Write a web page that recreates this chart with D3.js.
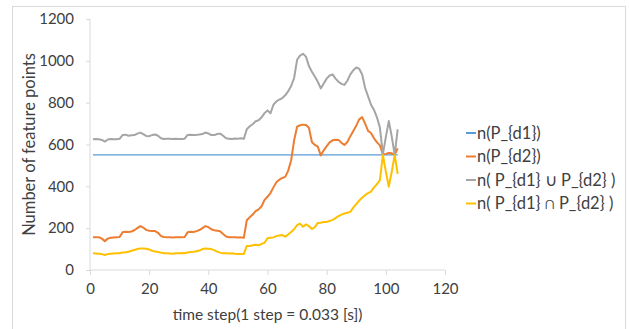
<!DOCTYPE html>
<html>
<head>
<meta charset="utf-8">
<script src="https://d3js.org/d3.v7.min.js"></script>
<style>
  body { margin: 0; background: #fff; }
  text { font-family: Lato, "Open Sans", sans-serif; fill: #404040; }
</style>
</head>
<body>
<svg id="chart" width="629" height="329"></svg>
<script>
// values, one per time step (1..104)
const steps = d3.range(1, 105);

const d1 = [550,550,550,550,550,550,550,550,550,550, 550,550,550,550,550,550,550,550,550,550,
  550,550,550,550,550,550,550,550,550,550, 550,550,550,550,550,550,550,550,550,550,
  550,550,550,550,550,550,550,550,550,550, 550,550,550,550,550,550,550,550,550,550,
  550,550,550,550,550,550,550,550,550,550, 550,550,550,550,550,550,550,550,550,550,
  550,550,550,550,550,550,550,550,550,550, 550,550,550,550,550,550,550,550,550,550,
  550,550,550,550];

const d2 = [157,156,157,150,138,150,154,155,156,158, 180,183,182,184,190,200,210,203,192,188,
  187,186,178,162,158,157,156,155,157,156, 157,158,180,183,182,186,191,200,210,205,
  195,190,188,185,172,160,157,156,157,155, 156,154,238,252,265,282,290,305,335,350,
  368,395,420,432,440,445,475,525,620,685, 692,695,693,680,612,598,590,548,572,592,
  610,620,623,622,608,598,612,640,665,690, 720,731,700,665,655,630,610,596,553,555,
  560,558,550,582];

const union = [625,626,625,622,614,624,626,625,625,627, 645,647,642,644,645,652,657,650,641,640,
  645,648,642,630,626,627,627,626,627,626, 626,628,646,647,645,646,648,650,657,653,
  645,645,650,652,642,630,628,626,629,628, 630,627,673,687,697,711,716,730,750,763,
  749,790,806,815,822,835,855,880,918,1005, 1025,1034,1020,975,948,925,900,868,892,915,
  930,935,915,900,890,885,905,935,955,968, 962,935,870,830,790,765,730,680,553,635,
  712,638,550,672];

const inter = [80,79,78,76,72,76,78,79,80,80, 84,85,87,92,96,100,103,103,102,98,
  92,88,86,83,80,80,79,78,80,80, 81,80,84,86,87,90,93,100,103,102,
  100,95,88,83,80,80,79,80,78,77, 76,77,115,115,118,121,118,125,130,152,
  154,156,162,165,167,159,170,182,195,215, 222,207,218,210,196,205,225,226,229,230,
  234,240,248,258,265,270,274,278,298,315, 332,345,358,368,375,395,410,430,550,470,
  398,470,550,460];

const seriesNames = ["n(P_{d1})", "n(P_{d2})", "n( P_{d1} \u222A P_{d2} )", "n( P_{d1} \u2229 P_{d2} )"];
const seriesColors = ["#5B9BD5", "#ED7D31", "#A5A5A5", "#FFC000"];
const seriesWidths = [1.2, 2, 2, 2];
const seriesValues = [d1, d2, union, inter];

const xTicks = [0, 20, 40, 60, 80, 100, 120];
const yTicks = [0, 200, 400, 600, 800, 1000, 1200];

const svg = d3.select('#chart');
const margin = {left: 90, right: 184, top: 19, bottom: 59};
const W = 629, H = 329;

// chart frame
svg.append('rect').attr('x', 12.5).attr('y', 6.5).attr('width', 613).attr('height', 340)
  .attr('fill', 'none').attr('stroke', '#D9D9D9');

const x = d3.scaleLinear().domain([0, 120]).range([margin.left, W - margin.right]);
const y = d3.scaleLinear().domain([0, 1200]).range([H - margin.bottom, margin.top]);

const xAxis = svg.append('g').attr('transform', 'translate(0,' + y(0) + ')')
  .call(d3.axisBottom(x).tickValues(xTicks).tickFormat(d3.format('d')).tickSize(5).tickPadding(8));
const yAxis = svg.append('g').attr('transform', 'translate(' + x(0) + ',0)')
  .call(d3.axisLeft(y).tickValues(yTicks).tickFormat(d3.format('d')).tickSize(4).tickPadding(12));

[xAxis, yAxis].forEach(g => {
  g.selectAll('path, line').attr('stroke', '#D9D9D9');
  g.selectAll('text').style('font-size', '15px').attr('fill', '#404040')
    .style('font-family', 'Lato, sans-serif');
});
xAxis.select('.domain').attr('d', 'M' + x(0) + ',0H' + x(120));
yAxis.select('.domain').attr('d', 'M0,' + y(0) + 'V' + y(1200));

const line = d3.line().x((d, i) => x(steps[i])).y(d => y(d));

seriesValues.forEach((vals, k) => {
  svg.append('path').datum(vals)
    .attr('fill', 'none')
    .attr('stroke', seriesColors[k])
    .attr('stroke-width', seriesWidths[k])
    .attr('stroke-linejoin', 'round')
    .attr('d', line);
});

// axis titles
svg.append('text')
  .attr('x', (x(0) + x(120)) / 2).attr('y', 320)
  .attr('text-anchor', 'middle').style('font-size', '15.5px')
  .text('time step(1 step = 0.033 [s])');

svg.append('text')
  .attr('transform', 'translate(35,' + ((y(0) + y(1200)) / 2) + ') rotate(-90)')
  .attr('text-anchor', 'middle').style('font-size', '16.5px')
  .text('Number of  feature points');

// legend
const legend = svg.append('g').attr('transform', 'translate(466,133)');
seriesNames.forEach((name, k) => {
  const g = legend.append('g').attr('transform', 'translate(0,' + (k * 23.5) + ')');
  g.append('line').attr('x1', 0).attr('x2', 10).attr('y1', 0).attr('y2', 0)
    .attr('stroke', seriesColors[k]).attr('stroke-width', 2);
  g.append('text').attr('x', 11).attr('dy', '0.35em').style('font-size', '16.5px').text(name);
});
</script>
</body>
</html>
